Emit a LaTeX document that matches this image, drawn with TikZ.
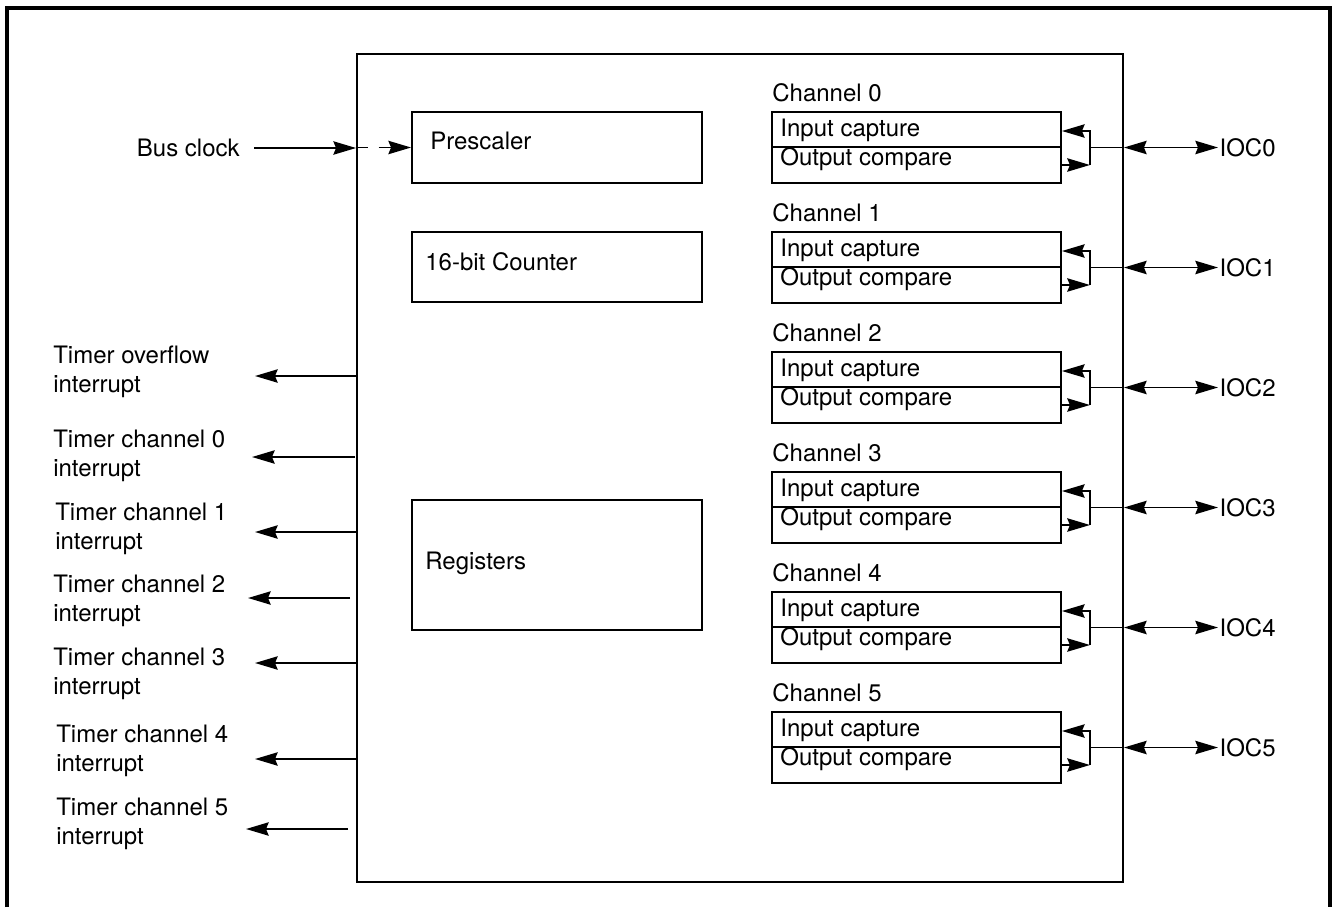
\documentclass[tikz,border=0pt]{standalone}
\usepackage{fontspec}
\setmainfont{TeX Gyre Heros}
\usetikzlibrary{positioning,arrows.meta,calc}

\tikzset{
  lbl/.style={inner sep=0pt},
  blockbox/.style={draw, line width=1.4pt, inner sep=0pt, minimum width=217.5pt},
  chbox/.style={draw, line width=1.4pt, inner sep=0pt, minimum width=216.75pt, minimum height=53.25pt},
  wire/.style={line width=1.4pt}
}

\begin{document}
\begin{tikzpicture}[x=0.75pt, y=-0.75pt, font=\fontsize{18pt}{21.75pt}\selectfont,
  >={Stealth[length=17pt, width=10pt, inset=2pt]}]

  \useasboundingbox (0,0) rectangle (1333,907);

  % outer frame, open at the bottom
  \draw[line width=3pt] (7,907) -- (7,8) -- (1330,8) -- (1330,907);

  % timer block
  \node[draw, line width=1.4pt, inner sep=0pt, minimum width=574.5pt, minimum height=621pt]
    (timer) at (740,468) {};

  % inner blocks
  \node[blockbox, minimum height=53.25pt] (pre) at (557,147.5) {};
  \node[blockbox, minimum height=52.5pt] (cnt) at (557,267) {};
  \node[blockbox, minimum height=97.5pt] (reg) at (557,565) {};
  \node[lbl, anchor=base west] (preTxt) at ($(pre.west)+(19,2)$) {Prescaler};
  \node[lbl, anchor=base west] (cntTxt) at ($(cnt.west)+(14,3.5)$) {16-bit Counter};
  \node[lbl, anchor=base west] (regTxt) at ($(reg.west)+(14,4.5)$) {Registers};

  % bus clock input
  \node[lbl, anchor=east, inner xsep=10.5pt] (bus) at (254,148) {Bus clock};
  \draw[wire, ->] (bus.east) -- (timer.west |- bus.east);
  \draw[wire, ->, dash pattern=on 9pt off 8pt] (timer.west |- pre.west) -- (pre.west);

  % channels
  \foreach \i in {0,...,5} {
    \pgfmathsetmacro{\top}{112+120*\i}
    \node[chbox] (ch\i) at (916.5,\top+35.5) {};
    \node[lbl, anchor=base west] (chName\i) at ($(ch\i.north west)+(1,-10)$) {Channel \i};
    \node[lbl, anchor=base west] (ic\i) at ($(ch\i.north west)+(9,25)$) {Input capture};
    \node[lbl, anchor=base west] (oc\i) at ($(ch\i.north west)+(9,54)$) {Output compare};
    \draw[wire] ($(ch\i.north west)+(0,36)$) -- ($(ch\i.north east)+(0,36)$);
    \coordinate (br\i) at ($(ch\i.east)+(28,0)$);
    \draw[wire, ->] (br\i) -- ++(0,-16.5) -- ($(ch\i.east)+(0,-16.5)$);
    \draw[wire] (br\i) -- ++(0,17.5);
    \draw[wire, ->] ($(ch\i.east)+(0,17.5)$) -- ($(br\i)+(0,17.5)$);
    \draw[wire] (br\i) -- (timer.east |- br\i);
    \node[lbl, anchor=west, inner xsep=1pt] (ioc\i) at (1218,\top+35.5) {IOC\i};
    \draw[wire, <->] (timer.east |- br\i) -- (ioc\i.west);
  }

  % interrupt outputs (base anchor sits on the second line)
  \foreach \n/\lx/\bl/\ay/\tx/\sx/\txt in {
      0/53/392/376/255/0/{Timer overflow\\interrupt},
      1/53/476/457/252/1/{Timer channel 0\\interrupt},
      2/55/549/532/255/0/{Timer channel 1\\interrupt},
      3/53/621/598/248/6/{Timer channel 2\\interrupt},
      4/53/694/663/255/0/{Timer channel 3\\interrupt},
      5/56/771/759/255/0/{Timer channel 4\\interrupt},
      6/56/844/829/246/8/{Timer channel 5\\interrupt}} {
    \node[lbl, align=left, anchor=base west] (int\n) at (\lx,\bl) {\txt};
    \coordinate (t\n) at (\tx,\ay);
    \draw[wire, ->] ($(timer.west |- t\n)+(-\sx,0)$) -- (t\n);
  }

\end{tikzpicture}
\end{document}
